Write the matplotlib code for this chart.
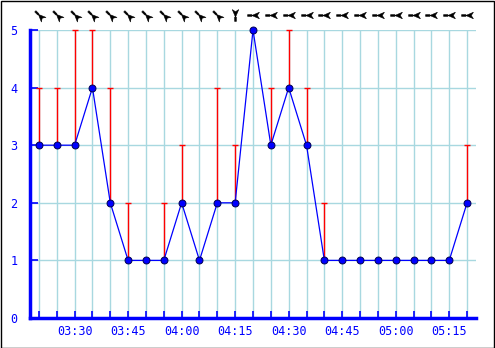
import numpy as np
import matplotlib
matplotlib.use("Agg")
import matplotlib.pyplot as plt
from matplotlib.path import Path
from matplotlib.markers import MarkerStyle
from matplotlib.transforms import Affine2D, ScaledTranslation
from matplotlib.patches import Rectangle

times = ["03:20", "03:25", "03:30", "03:35", "03:40", "03:45", "03:50", "03:55",
         "04:00", "04:05", "04:10", "04:15", "04:20", "04:25", "04:30", "04:35",
         "04:40", "04:45", "04:50", "04:55", "05:00", "05:05", "05:10", "05:15", "05:20"]
speed = [3, 3, 3, 4, 2, 1, 1, 1, 2, 1, 2, 2, 5, 3, 4, 3, 1, 1, 1, 1, 1, 1, 1, 1, 2]
gust = [4, 4, 5, 5, 4, 2, 1, 2, 3, 1, 4, 3, 5, 4, 5, 4, 2, 1, 1, 1, 1, 1, 1, 1, 3]
# arrow tip direction (degrees, math convention) for the wind arrows along the top
arrow_dir = [135] * 11 + [270] + [180] * 13
xtick_labels = ["03:30", "03:45", "04:00", "04:15", "04:30", "04:45", "05:00", "05:15"]
yticks = [0, 1, 2, 3, 4, 5]

BLUE = "#0000ff"
GRID = "#a8d8e0"

W, H = 495, 348
fig = plt.figure(figsize=(W / 100, H / 100), dpi=100)
fig.patch.set_facecolor("white")
fig.patches.append(Rectangle((0.5 / W, 0.5 / H), 1 - 1.5 / W, 1 - 1.5 / H, transform=fig.transFigure,
                             fill=False, edgecolor="black", linewidth=1.0, zorder=10))

ax = fig.add_axes([30 / W, (H - 318) / H, 446 / W, 288 / H])
x = np.arange(len(times))
ax.set_xlim(-0.5, len(times) - 0.5)
ax.set_ylim(0, 5)

# grid
for xi in x:
    ax.axvline(xi, color=GRID, lw=1, zorder=0)
for yv in yticks[1:]:
    ax.axhline(yv, color=GRID, lw=1, zorder=0)

# gust bars
for xi, s, g in zip(x, speed, gust):
    if g > s:
        ax.vlines(xi, s, g, color="red", lw=1, zorder=2)
        ax.plot([xi], [g], marker="_", color="red", markersize=5, mew=1, zorder=2, clip_on=False)

ax.plot(x, speed, color=BLUE, lw=0.9, zorder=3, marker="o", markersize=5,
        markerfacecolor=BLUE, markeredgecolor="#000050", markeredgewidth=0.7, clip_on=False)

# wind arrows
stem = [(-4, -0.8), (0, -0.8), (0, 0.8), (-4, 0.8), (-4, -0.8)]
head = [(0, 0), (7, 3.0), (5, 0), (7, -3.0), (0, 0)]
verts = [(vx - 1.5, vy) for vx, vy in stem + head]
codes = [Path.MOVETO] + [Path.LINETO] * 3 + [Path.CLOSEPOLY] + [Path.MOVETO] + [Path.LINETO] * 3 + [Path.CLOSEPOLY]
base = Path(verts, codes)
offset = ScaledTranslation(0, 15 / 100, fig.dpi_scale_trans)
for xi, d in zip(x, arrow_dir):
    m = MarkerStyle(base, transform=Affine2D().rotate_deg(d - 180))
    ax.plot([xi], [5], marker=m, markersize=8.5, color="black", markeredgewidth=0.4,
            linestyle="none", transform=ax.transData + offset, clip_on=False)

# spines
for s in ["top", "right"]:
    ax.spines[s].set_visible(False)
ax.spines["left"].set_color(BLUE)
ax.spines["left"].set_linewidth(2.5)
ax.spines["bottom"].set_color(BLUE)
ax.spines["bottom"].set_linewidth(2.5)

ax.set_yticks(yticks)
ax.set_yticklabels([str(v) for v in yticks])
ax.set_xticks(x)
ax.set_xticklabels([t if t in xtick_labels else "" for t in times])
ax.tick_params(axis="both", direction="in", colors=BLUE, labelcolor=BLUE, width=1.2,
               labelsize=8.5)
ax.tick_params(axis="x", length=5, pad=5)
ax.tick_params(axis="y", length=6, pad=9)
for lab in ax.get_xticklabels() + ax.get_yticklabels():
    lab.set_fontfamily("DejaVu Sans Mono")

fig.savefig("out.png", dpi=100, facecolor="white")
